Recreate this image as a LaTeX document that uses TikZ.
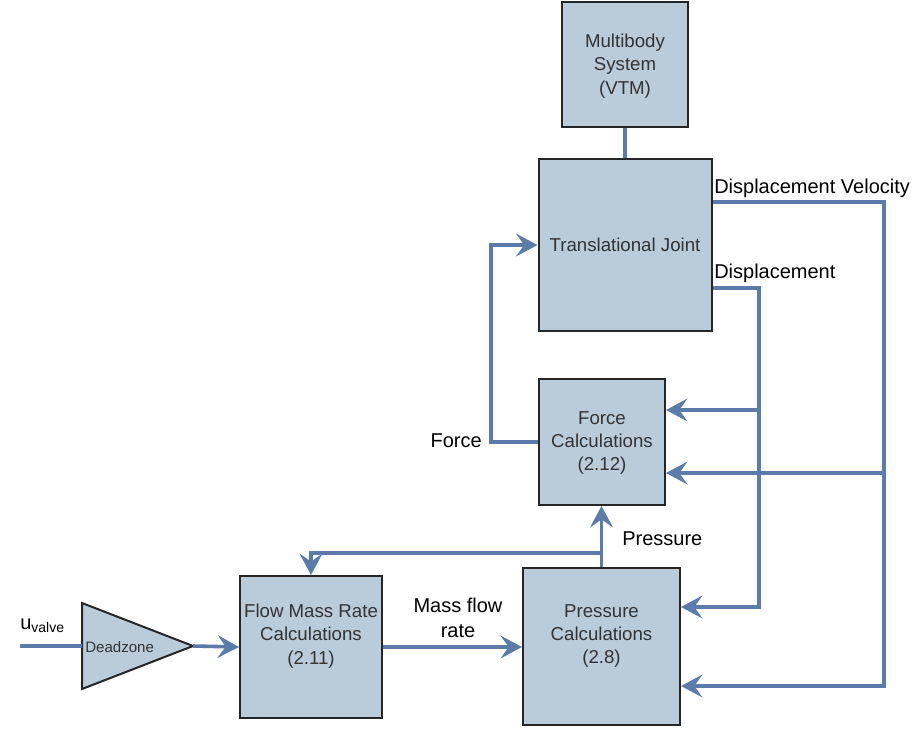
\documentclass[tikz,border=0pt]{standalone}
\usepackage{fontspec}
\setmainfont{Liberation Sans}
\usetikzlibrary{arrows.meta}
\definecolor{boxfill}{HTML}{BACCDA}
\definecolor{boxline}{HTML}{262626}
\definecolor{connc}{HTML}{5B7BA8}
\definecolor{boxtext}{HTML}{333333}
\tikzset{
  blk/.style={draw=boxline, line width=1.5pt, fill=boxfill, align=center, text=boxtext,
    font=\fontsize{14}{17}\selectfont, inner sep=0pt},
  btext/.style={align=center, text=boxtext, font=\fontsize{14}{17.5}\selectfont, inner sep=0pt},
  conn/.style={draw=connc, line width=2.7pt},
  arr/.style={-{Stealth[length=16pt, width=17pt, inset=6pt]}},
  lbl/.style={font=\fontsize{15}{18}\selectfont, text=black, inner sep=0pt}
}
\begin{document}
\begin{tikzpicture}[x=0.75pt, y=-0.75pt]
\useasboundingbox (0,0) rectangle (917,728);
% boxes
\node[blk, minimum width=94.5pt, minimum height=93.75pt] (mb) at (625,64.5) {};
\node[btext] (mbt) at (625,66) {Multibody\\System\\(VTM)};
\node[blk, minimum width=129.75pt, minimum height=129.4pt] (tj) at (625,245) {Translational Joint};
\node[blk, minimum width=94.5pt, minimum height=94.5pt] (fc) at (602,442) {};
\node[btext] (fct) at (602,443) {Force\\Calculations\\(2.12)};
\node[blk, minimum width=106.5pt, minimum height=106.5pt] (fm) at (311,647) {};
\node[btext] (fmt) at (311,636) {Flow Mass Rate\\Calculations\\(2.11)};
\node[blk, minimum width=117.75pt, minimum height=117.75pt] (pc) at (601.5,646.5) {};
\node[btext] (pct) at (601.5,636) {Pressure\\Calculations\\(2.8)};
% deadzone triangle
\coordinate (dzw) at (82,646);
\coordinate (dze) at (193,646);
\draw[boxline, line width=1.5pt, fill=boxfill] (82,603) -- (dze) -- (82,689) -- cycle;
\node[anchor=west, inner sep=0pt, text=boxtext, font=\fontsize{11.3}{13}\selectfont] (dz) at (85,647) {Deadzone};
% coordinates
\coordinate (uin) at (20,646);
\coordinate (vr) at (884,202);
\coordinate (vb) at (884,686);
\coordinate (dr) at (759,288);
\coordinate (db) at (759,607);
\coordinate (fk) at (491,442);
\coordinate (pj) at (601.5,553);
\coordinate (pk) at (311,553);
% connectors
\draw[conn] (uin) -- (dzw);
\draw[conn, arr] (dze) -- (fm.west);
\draw[conn, arr] (fm.east) -- (fm.east -| pc.west);
\draw[conn] (mb.south) -- (tj.north);
\draw[conn, arr] (tj.east |- vr) -- (vr) -- (vb) -- (vb -| pc.east);
\draw[conn, arr] (vr |- 0,473) -- (fc.east |- 0,473);
\draw[conn, arr] (tj.east |- dr) -- (dr) -- (db) -- (db -| pc.east);
\draw[conn, arr] (dr |- 0,410) -- (fc.east |- 0,410);
\draw[conn, arr] (fc.west) -- (fk) |- (tj.west);
\draw[conn, arr] (pc.north) -- (pc.north |- fc.south);
\draw[conn, arr] (pj) -- (pk) -- (fm.north);
% labels
\node[lbl, anchor=west] (lv) at (714,188) {Displacement Velocity};
\node[lbl, anchor=west] (ld) at (714,273) {Displacement};
\node[lbl, anchor=east] (lf) at (482,441) {Force};
\node[lbl, anchor=west] (lp) at (622,539) {Pressure};
\node[lbl, align=center, font=\fontsize{15}{18.5}\selectfont] (lm) at (458,618) {Mass flow\\rate};
\node[lbl, anchor=west] (lu) at (20,626) {u\textsubscript{valve}};
\end{tikzpicture}
\end{document}
